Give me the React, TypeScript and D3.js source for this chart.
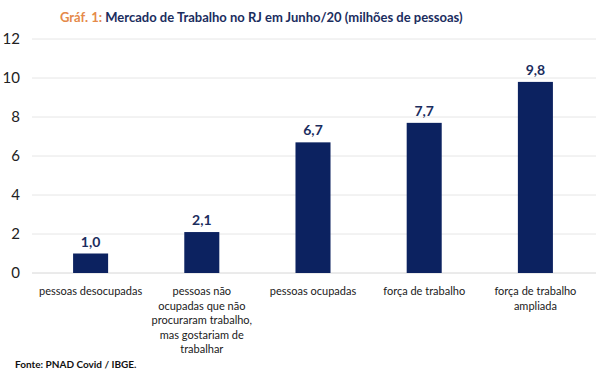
import * as d3 from "d3";

const categories = [
  ["pessoas desocupadas"],
  ["pessoas não", "ocupadas que não", "procuraram trabalho,", "mas gostariam de", "trabalhar"],
  ["pessoas ocupadas"],
  ["força de trabalho"],
  ["força de trabalho", "ampliada"],
];
const values = [1.0, 2.1, 6.7, 7.7, 9.8];
const yTicks = [0, 2, 4, 6, 8, 10, 12];

const width = 600;
const height = 373;
const marginLeft = 35;
const marginRight = 9;
const plotTop = 39;
const plotBottom = 273;

const navy = "#0c2260";
const labelNavy = "#1b2d5e";
const orange = "#e58a4a";
const font = "Lato, 'Open Sans', sans-serif";

export default function App() {
  const keys = categories.map((_, i) => String(i));
  const x = d3
    .scaleBand<string>()
    .domain(keys)
    .range([marginLeft, width - marginRight])
    .paddingInner(0.685)
    .paddingOuter(0.3425);
  const y = d3.scaleLinear().domain([0, 12]).range([plotBottom, plotTop]);
  const fmt = (v: number) => v.toFixed(1).replace(".", ",");

  return (
    <svg
      width={width}
      height={height}
      style={{ position: "absolute", left: 0, top: 0, background: "#fff" }}
      fontFamily={font}
    >
      <text x={60} y={22} fontSize={13} fontWeight={700}>
        <tspan fill={orange}>Gráf. 1:</tspan>
        <tspan fill={labelNavy}>{"  Mercado de Trabalho no RJ em Junho/20 (milhões de pessoas)"}</tspan>
      </text>

      {yTicks.map((t) => (
        <g key={t}>
          <line
            x1={32}
            x2={596}
            y1={y(t)}
            y2={y(t)}
            stroke={t === 0 ? "#d6d6d6" : "#e6e6e6"}
            strokeWidth={1}
          />
          <text x={20} y={y(t)} dy="0.35em" textAnchor="end" fontSize={15} fill="#222">
            {t}
          </text>
        </g>
      ))}

      {values.map((v, i) => (
        <g key={i}>
          <rect
            x={x(String(i)) ?? 0}
            y={y(v)}
            width={x.bandwidth()}
            height={y(0) - y(v)}
            fill={navy}
          />
          <text
            x={(x(String(i)) ?? 0) + x.bandwidth() / 2}
            y={y(v) - 7}
            textAnchor="middle"
            fontSize={14}
            fontWeight={700}
            fill={labelNavy}
          >
            {fmt(v)}
          </text>
        </g>
      ))}

      {categories.map((lines, i) => (
        <text
          key={i}
          x={(x(String(i)) ?? 0) + x.bandwidth() / 2}
          y={295}
          textAnchor="middle"
          fontSize={11}
          fill="#1a1a1a"
        >
          {lines.map((l, j) => (
            <tspan key={j} x={(x(String(i)) ?? 0) + x.bandwidth() / 2} dy={j === 0 ? 0 : 14.6}>
              {l}
            </tspan>
          ))}
        </text>
      ))}

      <text x={15} y={368} fontSize={10} fontWeight={700} fill="#111">
        Fonte: PNAD Covid / IBGE.
      </text>
    </svg>
  );
}
